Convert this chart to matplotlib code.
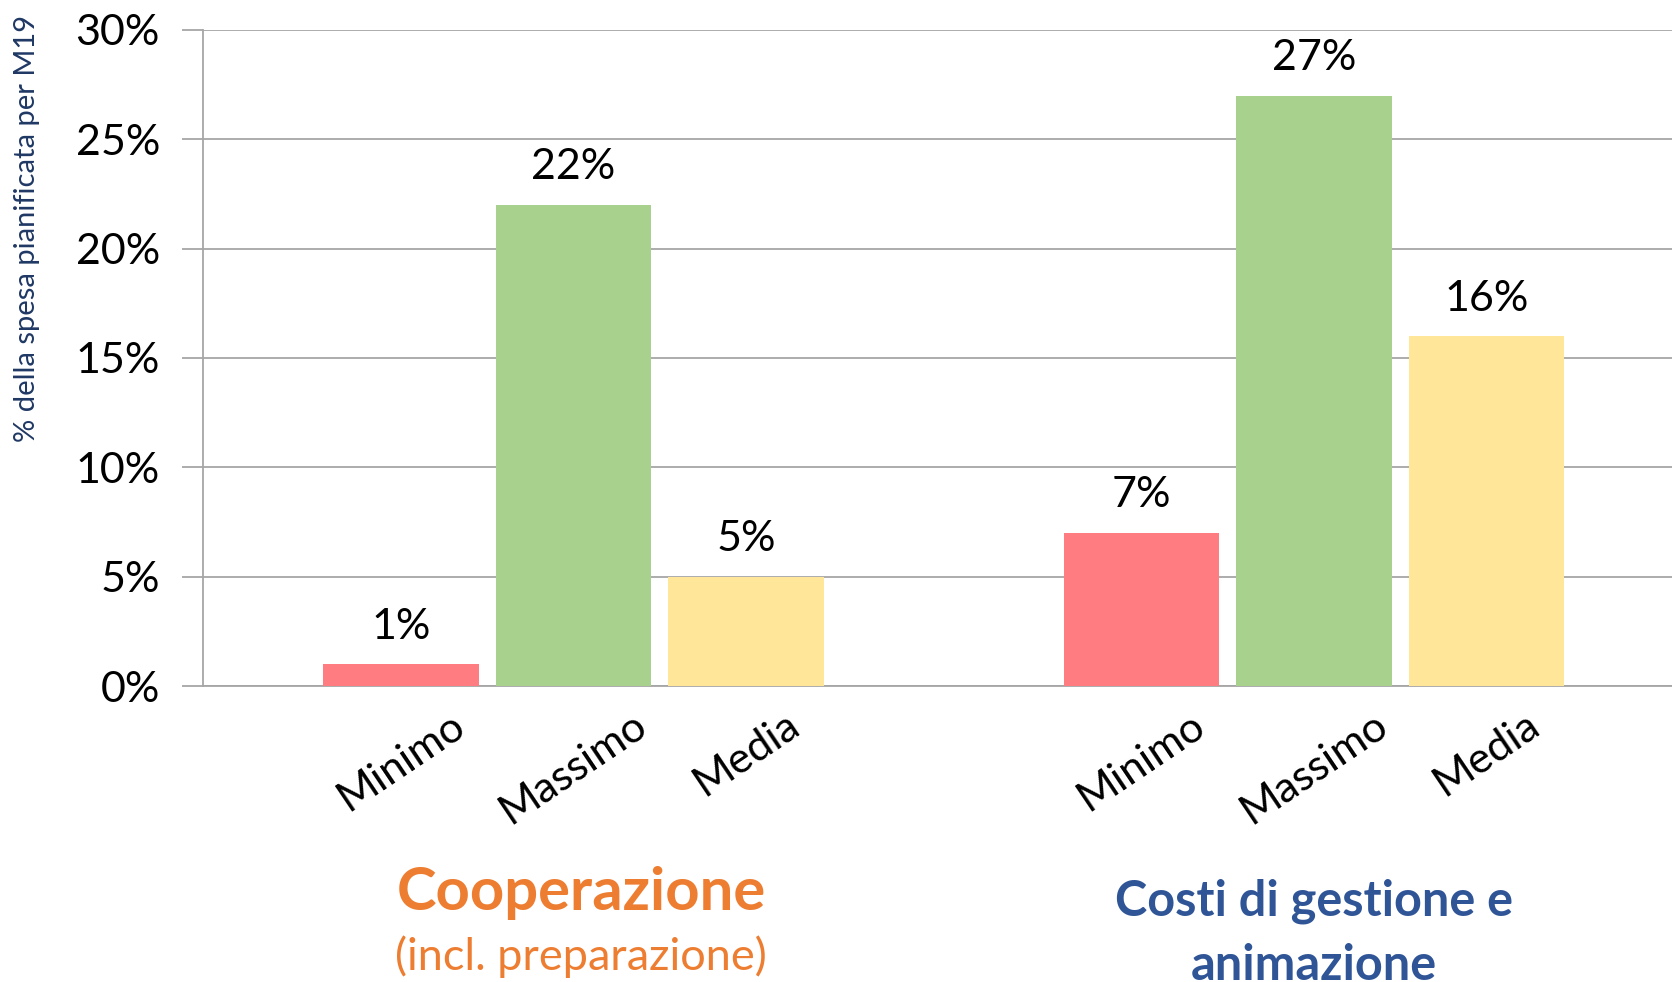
import numpy as np
import matplotlib
matplotlib.use('Agg')
import matplotlib.pyplot as plt
from matplotlib.ticker import FuncFormatter

plt.rcParams['font.family'] = ['Lato', 'DejaVu Sans']

groups = ['Cooperazione', 'Costi di gestione e animazione']
series = ['Minimo', 'Massimo', 'Media']
minimo = [1, 7]
massimo = [22, 27]
media = [5, 16]
colors = ['#FF7C80', '#A9D18E', '#FFE699']

fig = plt.figure(figsize=(16.72, 9.82), dpi=100)
ax = fig.add_axes([0.1214, 0.3014, 0.886, 0.6681])

x = np.arange(len(groups))
w = 0.21
off = 0.233
ticks = []
labels = []
for i, (vals, col, name) in enumerate(zip([minimo, massimo, media], colors, series)):
    pos = x + (i - 1) * off
    ax.bar(pos, vals, width=w, color=col, zorder=3)
    for p, v in zip(pos, vals):
        ax.text(p, v + 0.85, f'{v}%', ha='center', va='bottom', fontsize=31, color='black')
    ticks += list(pos)
    labels += [name] * len(pos)

ax.set_xlim(-0.5, 1.5)
ax.set_ylim(0, 30)
ax.set_yticks(range(0, 31, 5))
ax.yaxis.set_major_formatter(FuncFormatter(lambda v, _: f'{int(v)}%'))
ax.set_xticks(ticks)
ax.set_xticklabels(labels, rotation=34, ha='center', va='top', fontsize=31)
ax.tick_params(axis='x', length=0, pad=14)
ax.tick_params(axis='y', length=15, color='#A6A6A6', width=1.3, labelsize=31, pad=16)
ax.grid(axis='y', color='#A6A6A6', linewidth=1.3, zorder=0)
for s in ['top', 'right']:
    ax.spines[s].set_visible(False)
ax.spines['left'].set_color('#A6A6A6')
ax.spines['bottom'].set_color('#A6A6A6')
ax.spines['left'].set_linewidth(1.3)
ax.spines['bottom'].set_linewidth(1.3)

fig.text(0.016, 0.767, '% della spesa pianificata per M19', rotation=90, ha='center', va='center',
         fontsize=21, color='#1F3864')

fig.text(581 / 1672, 1 - 893 / 982, 'Cooperazione', ha='center', va='center', fontsize=43,
         fontweight='bold', color='#ED7D31')
fig.text(581 / 1672, 1 - 957 / 982, '(incl. preparazione)', ha='center', va='center', fontsize=32.5,
         color='#ED7D31')
fig.text(1314 / 1672, 1 - 901 / 982, 'Costi di gestione e', ha='center', va='center', fontsize=35,
         fontweight='bold', color='#2F5597')
fig.text(1314 / 1672, 1 - 966 / 982, 'animazione', ha='center', va='center', fontsize=35,
         fontweight='bold', color='#2F5597')

fig.savefig('out.png', dpi=100)
